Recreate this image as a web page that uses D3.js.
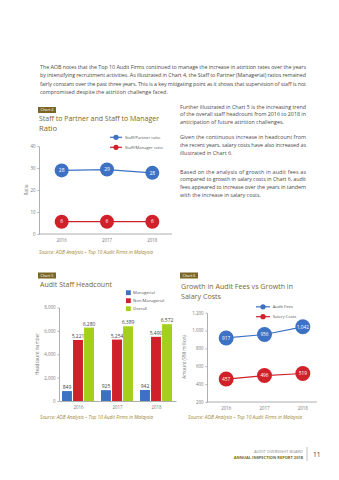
<!DOCTYPE html>
<html><head><meta charset="utf-8">
<script src="https://cdn.jsdelivr.net/npm/d3@7"></script>
<style>
html,body{margin:0;padding:0;background:#fff;}
svg{display:block;font-family:"Open Sans",sans-serif;}
</style></head>
<body>
<script>
// ---------- DATA ----------
const years = ["2016","2017","2018"];
// Chart 4
const partnerRatio = [28.9, 29.3, 27.8];
const partnerLabels = ["28","29","28"];
const managerRatio = [5.6, 5.6, 5.6];
const managerLabels = ["6","6","6"];
const ratioTicks = [0,10,20,30,40];
// Chart 5
const headSeries = ["Managerial","Non-Managerial","Overall"];
const managerial = [849, 925, 942];
const nonManagerial = [5221, 5254, 5490];
const overall = [6280, 6389, 6572];
const headTicks = [0,2000,4000,6000,8000];
// Chart 6
const auditFees = [917, 956, 1042];
const salaryCosts = [457, 496, 519];
const amountTicks = [200,400,600,800,1000,1200];

// ---------- STYLE ----------
const BLUE="#3c71c3", RED="#d0212b", GREEN="#a4cf1a", GOLD="#7b6627", SRC="#a08632", TXT="#4a4a4a", AX="#9a9a9a";

const svg=d3.select("body").append("svg").attr("width",339).attr("height",480);
svg.append("rect").attr("width",339).attr("height",480).attr("fill","#fff");

function lines(arr,x,y0,dy,width,size,color,justifyLast){
  arr.forEach((t,i)=>{
    const el=svg.append("text").attr("x",x).attr("y",y0+i*dy).attr("font-size",size).attr("fill",color).text(t);
    if(i<arr.length-1||justifyLast) el.attr("textLength",width).attr("lengthAdjust","spacing");
  });
}
// body text
lines(["The AOB notes that the Top 10 Audit Firms continued to manage the increase in attrition rates over the years",
"by intensifying recruitment activities. As illustrated in Chart 4, the Staff to Partner (Managerial) ratios remained",
"fairly constant over the past three years. This is a key mitigating point as it shows that supervision of staff is not",
"compromised despite the attrition challenge faced."],40,69,8.3,266,5.4,TXT);
lines(["Further illustrated in Chart 5 is the increasing trend","of the overall staff headcount from 2016 to 2018 in","anticipation of future attrition challenges."],180,108.7,7.6,126,5.4,TXT);
lines(["Given the continuous increase in headcount from","the recent years, salary costs have also increased as","illustrated in Chart 6."],180,139.3,7.7,126,5.4,TXT);
lines(["Based on the analysis of growth in audit fees as","compared to growth in salary costs in Chart 6, audit","fees appeared to increase over the years in tandem","with the increase in salary costs."],180,173.7,7.75,126,5.4,TXT);

function chartTag(x,y,label){
  svg.append("rect").attr("x",x).attr("y",y).attr("width",18).attr("height",6).attr("fill",GOLD);
  svg.append("text").attr("x",x+9).attr("y",y+4.4).attr("text-anchor","middle").attr("font-size",3.8).attr("fill","#fff").text(label);
}
function title(x,y,t,w){
  const el=svg.append("text").attr("x",x).attr("y",y).attr("font-size",7.6).attr("fill",GOLD).text(t);
  if(w) el.attr("textLength",w).attr("lengthAdjust","spacingAndGlyphs");
}
function source(x,y,w){
  svg.append("text").attr("x",x).attr("y",y).attr("font-size",4.8).attr("font-style","italic").attr("fill",SRC)
   .attr("textLength",w).attr("lengthAdjust","spacingAndGlyphs").text("Source: AOB Analysis \u2013 Top 10 Audit Firms in Malaysia");
}
function styleAxis(g){
  g.selectAll("path,line").attr("stroke",AX).attr("stroke-width",0.8);
  g.selectAll("text").attr("fill","#777").attr("font-size",4.4).attr("font-family","Open Sans");
}
function yLabel(x,y,t){
  svg.append("text").attr("transform",`translate(${x},${y}) rotate(-90)`).attr("text-anchor","middle")
   .attr("font-size",4.6).attr("fill","#777").text(t);
}

// ---------- CHART 4 ----------
chartTag(38,107,"Chart 4");
title(39,121,"Staff to Partner and Staff to Manager",120);
title(39,131,"Ratio");
{
  const x=d3.scaleBand().domain(years).range([39,175]);
  const y=d3.scaleLinear().domain([0,40]).range([234,146]);
  const gx=svg.append("g").attr("transform","translate(0,234)").call(d3.axisBottom(x).tickSize(0).tickSizeOuter(0).tickPadding(5));
  styleAxis(gx);
  gx.select(".domain").attr("d","M39,0H172");
  const gy=svg.append("g").attr("transform","translate(39,0)").call(d3.axisLeft(y).tickValues(ratioTicks).tickSize(1.5).tickSizeOuter(0).tickPadding(2));
  styleAxis(gy);
  yLabel(28,190,"Ratio");
  const cx=d=>x(d)+x.bandwidth()/2;
  [[partnerRatio,partnerLabels,BLUE],[managerRatio,managerLabels,RED]].forEach(([vals,labs,c])=>{
    svg.append("path").datum(vals).attr("fill","none").attr("stroke",c).attr("stroke-width",1.2)
      .attr("d",d3.line().x((d,i)=>cx(years[i])).y(d=>y(d)));
    svg.selectAll(null).data(vals).enter().append("circle").attr("cx",(d,i)=>cx(years[i])).attr("cy",d=>y(d)).attr("r",7).attr("fill",c);
    svg.selectAll(null).data(vals).enter().append("text").attr("x",(d,i)=>cx(years[i])).attr("y",d=>y(d)+1.8)
      .attr("text-anchor","middle").attr("font-size",5).attr("fill","#fff").text((d,i)=>labs[i]);
  });
  // legend
  [["Staff/Partner ratio",BLUE,137.3],["Staff/Manager ratio",RED,147.3]].forEach(([t,c,ly])=>{
    svg.append("line").attr("x1",110).attr("x2",122).attr("y1",ly).attr("y2",ly).attr("stroke",c).attr("stroke-width",1.2);
    svg.append("circle").attr("cx",116).attr("cy",ly).attr("r",2.6).attr("fill",c);
    svg.append("text").attr("x",125).attr("y",ly+1.5).attr("font-size",4.2).attr("fill","#555").text(t);
  });
}
source(39,253.5,114);

// ---------- CHART 5 ----------
chartTag(38,272.5,"Chart 5");
title(40,287.2,"Audit Staff Headcount",72);
{
  const x0=d3.scaleBand().domain(years).range([59,176]);
  const x1=d3.scaleBand().domain(headSeries).range([3,35]).paddingInner(0.1);
  const y=d3.scaleLinear().domain([0,8000]).range([401,307.5]);
  const colors=[BLUE,RED,GREEN];
  const series=[managerial,nonManagerial,overall];
  const gx=svg.append("g").attr("transform","translate(0,401)").call(d3.axisBottom(x0).tickSize(0).tickSizeOuter(0).tickPadding(5));
  styleAxis(gx);
  const gy=svg.append("g").attr("transform","translate(59,0)").call(d3.axisLeft(y).tickValues(headTicks).tickSize(1.5).tickSizeOuter(0).tickPadding(2).tickFormat(d3.format(",")));
  styleAxis(gy);
  yLabel(39,354,"Headcount number");
  series.forEach((vals,si)=>{
    const g=svg.append("g");
    g.selectAll("rect").data(vals).enter().append("rect")
      .attr("x",(d,i)=>x0(years[i])+x1(headSeries[si])).attr("width",x1.bandwidth())
      .attr("y",d=>y(d)).attr("height",d=>401-y(d)).attr("fill",colors[si]);
    g.selectAll("text").data(vals).enter().append("text")
      .attr("x",(d,i)=>x0(years[i])+x1(headSeries[si])+x1.bandwidth()/2).attr("y",d=>y(d)-2)
      .attr("text-anchor","middle").attr("font-size",5).attr("fill","#444").text(d=>d3.format(",")(d));
  });
  headSeries.forEach((t,i)=>{
    const ly=292.7+i*8;
    svg.append("rect").attr("x",126).attr("y",ly-2.4).attr("width",4.8).attr("height",4.8).attr("fill",colors[i]);
    svg.append("text").attr("x",133).attr("y",ly+1.5).attr("font-size",4.2).attr("fill","#555").text(t);
  });
}
source(40,419,113);

// ---------- CHART 6 ----------
chartTag(180,272.5,"Chart 6");
title(181,289,"Growth in Audit Fees vs Growth in",112);
title(181,298.5,"Salary Costs",40);
{
  const x=d3.scaleBand().domain(years).range([207,322]);
  const y=d3.scaleLinear().domain([200,1200]).range([402,312.7]);
  const gx=svg.append("g").attr("transform","translate(0,402)").call(d3.axisBottom(x).tickSize(0).tickSizeOuter(0).tickPadding(5));
  styleAxis(gx);
  gx.select(".domain").attr("d","M207,0H317");
  const gy=svg.append("g").attr("transform","translate(207,0)").call(d3.axisLeft(y).tickValues(amountTicks).tickSize(1.5).tickSizeOuter(0).tickPadding(2).tickFormat(d3.format(",")));
  styleAxis(gy);
  yLabel(186,357,"Amount (RM million)");
  const cx=d=>x(d)+x.bandwidth()/2;
  [[auditFees,BLUE],[salaryCosts,RED]].forEach(([vals,c])=>{
    svg.append("path").datum(vals).attr("fill","none").attr("stroke",c).attr("stroke-width",1.2)
      .attr("d",d3.line().x((d,i)=>cx(years[i])).y(d=>y(d)));
    svg.selectAll(null).data(vals).enter().append("circle").attr("cx",(d,i)=>cx(years[i])).attr("cy",d=>y(d)).attr("r",7.5).attr("fill",c);
    svg.selectAll(null).data(vals).enter().append("text").attr("x",(d,i)=>cx(years[i])).attr("y",d=>y(d)+1.8)
      .attr("text-anchor","middle").attr("font-size",4.8).attr("fill","#fff").text(d=>d3.format(",")(d));
  });
  [["Audit Fees",BLUE,306.8],["Salary Costs",RED,316.7]].forEach(([t,c,ly])=>{
    svg.append("line").attr("x1",256).attr("x2",270).attr("y1",ly).attr("y2",ly).attr("stroke",c).attr("stroke-width",1.2);
    svg.append("circle").attr("cx",263).attr("cy",ly).attr("r",2.6).attr("fill",c);
    svg.append("text").attr("x",272.7).attr("y",ly+1.5).attr("font-size",4.2).attr("fill","#555").text(t);
  });
}
source(188,419,114);

// ---------- FOOTER ----------
svg.append("text").attr("x",303).attr("y",453).attr("text-anchor","end").attr("font-size",4).attr("fill","#888").text("AUDIT OVERSIGHT BOARD");
svg.append("text").attr("x",303).attr("y",459).attr("text-anchor","end").attr("font-size",4).attr("font-weight","bold").attr("fill",GOLD).text("ANNUAL INSPECTION REPORT 2018");
svg.append("line").attr("x1",307).attr("x2",307).attr("y1",447).attr("y2",461).attr("stroke","#999").attr("stroke-width",0.6);
svg.append("text").attr("x",313).attr("y",456.5).attr("font-size",6.5).attr("fill","#333").text("11");
</script>
</body></html>
